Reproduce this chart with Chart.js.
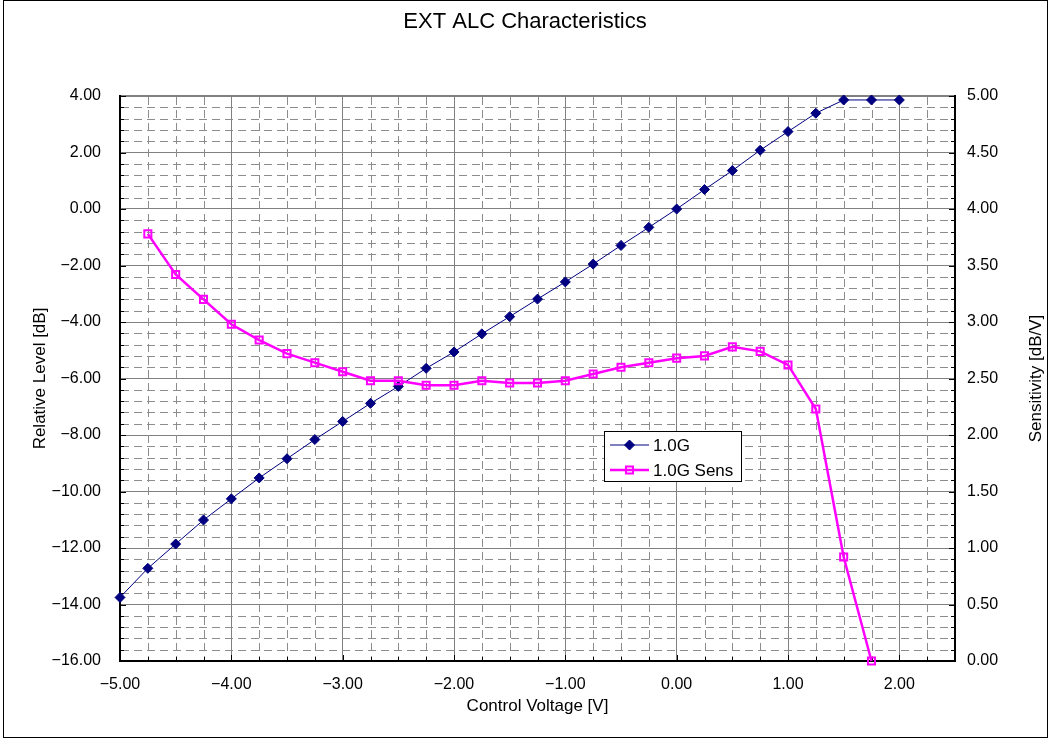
<!DOCTYPE html>
<html>
<head>
<meta charset="utf-8">
<title>EXT ALC Characteristics</title>
<script src="https://cdn.jsdelivr.net/npm/chart.js@4.4.1/dist/chart.umd.min.js"></script>
<style>
  html, body { margin: 0; padding: 0; background: #fff; overflow: hidden; }
  canvas { display: block; }
</style>
</head>
<body>
<canvas id="chart" width="1050" height="738"></canvas>
<script>
// ---- text ----
const chartTitle = 'EXT ALC Characteristics';
const xAxisTitle = 'Control Voltage [V]';
const levelAxisTitle = 'Relative Level [dB]';
const sensAxisTitle = 'Sensitivity [dB/V]';
const seriesNames = ['1.0G', '1.0G Sens'];

// ---- axis ranges / tick steps ----
const voltageRange = [-5.0, 2.5];
const voltageStep = 1.0;
const levelRange = [-16, 4];
const levelStep = 2;
const sensRange = [0, 5];
const sensStep = 0.5;

// ---- measured data ----
const controlVoltage = [
  -5.00, -4.75, -4.50, -4.25, -4.00, -3.75, -3.50, -3.25, -3.00, -2.75,
  -2.50, -2.25, -2.00, -1.75, -1.50, -1.25, -1.00, -0.75, -0.50, -0.25,
   0.00,  0.25,  0.50,  0.75,  1.00,  1.25,  1.50,  1.75,  2.00
];
const level1G = [
  -13.75, -12.72, -11.86, -11.01, -10.26, -9.52, -8.84, -8.16, -7.52, -6.88,
   -6.28,  -5.64,  -5.06,  -4.42,  -3.81, -3.19, -2.58, -1.95, -1.29, -0.65,
    0.00,   0.69,   1.36,   2.08,   2.74,  3.39,  3.86,  3.86,  3.86
];
const sens1G = [
  null, 3.78, 3.42, 3.20, 2.98, 2.84, 2.72, 2.64, 2.56, 2.48,
  2.48, 2.44, 2.44, 2.48, 2.46, 2.46, 2.48, 2.54, 2.60, 2.64,
  2.68, 2.70, 2.78, 2.74, 2.62, 2.23, 0.92, 0.00, null
];

// ---- styling ----
const FONT = '"Liberation Sans", Arial, Helvetica, sans-serif';
const levelColor = '#000080';
const sensColor = '#FF00FF';
const majorGridColor = '#808080';
const minorGridColor = '#8c8c8c';

const fmt = v => (v < -1e-9 ? '\u2212' : '') + Math.abs(v).toFixed(2);
const toPoints = ys => controlVoltage.map((x, i) => ({ x, y: ys[i] }));

// Marker drawing shared by the legend
function drawMarker(ctx, style, cx, cy, r, fill, stroke, lw) {
  ctx.beginPath();
  if (style === 'rectRot') {
    ctx.moveTo(cx - r, cy); ctx.lineTo(cx, cy - r); ctx.lineTo(cx + r, cy); ctx.lineTo(cx, cy + r);
    ctx.closePath();
  } else {
    const s = Math.SQRT1_2 * r;
    ctx.rect(cx - s, cy - s, 2 * s, 2 * s);
  }
  if (fill) { ctx.fillStyle = fill; ctx.fill(); }
  ctx.lineWidth = lw; ctx.strokeStyle = stroke; ctx.stroke();
}

// Minor dashed grid, inside tick marks, legend, right-hand axis title and frame
const decor = {
  id: 'decor',
  beforeDraw(chart) {
    const { ctx, width, height } = chart;
    ctx.save();
    ctx.fillStyle = '#fff';
    ctx.fillRect(0, 0, width, height);
    ctx.restore();
  },
  beforeDatasetsDraw(chart) {
    const { ctx, chartArea: a, scales } = chart;
    const xs = scales.x, ys = scales.y;
    ctx.save();
    ctx.lineWidth = 1;
    ctx.strokeStyle = minorGridColor;
    ctx.setLineDash([8, 5]);
    ctx.beginPath();
    const xMinorCount = Math.round((voltageRange[1] - voltageRange[0]) / 0.25);
    for (let i = 1; i < xMinorCount; i++) {
      if (i % 4 === 0) continue;
      const px = Math.round(xs.getPixelForValue(voltageRange[0] + i * 0.25)) + 0.5;
      ctx.moveTo(px, a.top + 1); ctx.lineTo(px, a.bottom - 1);
    }
    const yMinorCount = Math.round((levelRange[1] - levelRange[0]) / 0.4);
    for (let i = 1; i < yMinorCount; i++) {
      if (i % 5 === 0) continue;
      const py = Math.round(ys.getPixelForValue(levelRange[0] + i * 0.4)) + 0.5;
      ctx.moveTo(a.left + 1, py); ctx.lineTo(a.right - 1, py);
    }
    ctx.stroke();

    // tick marks (inside)
    ctx.setLineDash([]);
    ctx.strokeStyle = '#000';
    ctx.beginPath();
    for (let i = 0; i <= yMinorCount; i++) {
      const py = Math.round(ys.getPixelForValue(levelRange[0] + i * 0.4)) + 0.5;
      const len = i % 5 === 0 ? 6 : 4;
      ctx.moveTo(a.left, py); ctx.lineTo(a.left + len, py);
      ctx.moveTo(a.right, py); ctx.lineTo(a.right - len, py);
    }
    for (let i = 0; i <= xMinorCount; i++) {
      const px = Math.round(xs.getPixelForValue(voltageRange[0] + i * 0.25)) + 0.5;
      const len = i % 4 === 0 ? 6 : 4;
      ctx.moveTo(px, a.bottom); ctx.lineTo(px, a.bottom - len);
    }
    ctx.stroke();
    ctx.restore();
  },
  afterDatasetsDraw(chart) {
    const { ctx } = chart;
    const box = { x: 604.5, y: 431.5, w: 137, h: 50 };
    ctx.save();
    ctx.fillStyle = '#fff';
    ctx.fillRect(box.x, box.y, box.w, box.h);
    ctx.lineWidth = 1;
    ctx.strokeStyle = '#000';
    ctx.strokeRect(box.x, box.y, box.w, box.h);
    const rows = [445, 470];
    chart.data.datasets.forEach((ds, i) => {
      const cy = rows[i];
      ctx.beginPath();
      ctx.moveTo(610, cy); ctx.lineTo(649, cy);
      ctx.lineWidth = ds.borderWidth; ctx.strokeStyle = ds.borderColor;
      ctx.stroke();
      drawMarker(ctx, ds.pointStyle, 629.5, cy, ds.pointRadius,
        ds.pointBackgroundColor === 'transparent' ? null : ds.pointBackgroundColor,
        ds.pointBorderColor, ds.pointBorderWidth);
      ctx.fillStyle = '#000';
      ctx.font = '17px ' + FONT;
      ctx.textAlign = 'left';
      ctx.textBaseline = 'middle';
      ctx.fillText(ds.label, 653, cy + 1);
    });
    ctx.restore();
  },
  afterDraw(chart) {
    const { ctx, chartArea: a } = chart;
    ctx.save();
    ctx.fillStyle = '#000';
    ctx.font = '17px ' + FONT;
    ctx.textAlign = 'center';
    ctx.textBaseline = 'middle';
    ctx.translate(1036, (a.top + a.bottom) / 2);
    ctx.rotate(-Math.PI / 2);
    ctx.fillText(sensAxisTitle, 0, 0);
    ctx.restore();

    ctx.save();
    ctx.lineWidth = 1;
    ctx.strokeStyle = '#000';
    ctx.strokeRect(3.5, 0.5, 1044, 737);
    ctx.restore();
  }
};

new Chart(document.getElementById('chart'), {
  type: 'line',
  data: {
    datasets: [
      {
        label: seriesNames[0],
        data: toPoints(level1G),
        yAxisID: 'y',
        borderColor: levelColor,
        borderWidth: 1,
        pointStyle: 'rectRot',
        pointRadius: 5,
        pointBackgroundColor: levelColor,
        pointBorderColor: levelColor,
        pointBorderWidth: 1,
        tension: 0,
        clip: false,
        order: 1
      },
      {
        label: seriesNames[1],
        data: toPoints(sens1G),
        yAxisID: 'y2',
        borderColor: sensColor,
        borderWidth: 2.5,
        pointStyle: 'rect',
        pointRadius: 5,
        pointBackgroundColor: 'transparent',
        pointBorderColor: sensColor,
        pointBorderWidth: 2,
        tension: 0,
        clip: false,
        order: 0
      }
    ]
  },
  options: {
    responsive: false,
    animation: false,
    devicePixelRatio: 1,
    layout: { padding: 0 },
    plugins: {
      legend: { display: false },
      tooltip: { enabled: false },
      title: {
        display: true,
        text: chartTitle,
        color: '#000',
        font: { family: FONT, size: 22, weight: 'normal' },
        padding: { top: 8.5, bottom: 61.1 }
      }
    },
    scales: {
      x: {
        type: 'linear',
        position: 'bottom',
        min: voltageRange[0],
        max: voltageRange[1],
        afterFit: s => { s.height = 77; },
        ticks: {
          stepSize: voltageStep,
          includeBounds: false,
          autoSkip: false,
          maxRotation: 0,
          padding: 14,
          color: '#000',
          font: { family: FONT, size: 16 },
          callback: v => fmt(v)
        },
        grid: { color: majorGridColor, lineWidth: 1, drawTicks: false },
        border: { display: true, color: '#000', width: 2 },
        title: {
          display: true,
          text: xAxisTitle,
          color: '#000',
          font: { family: FONT, size: 17 },
          padding: { top: 0, bottom: 21 }
        }
      },
      y: {
        type: 'linear',
        position: 'left',
        min: levelRange[0],
        max: levelRange[1],
        afterFit: s => { s.width = 120; },
        ticks: {
          stepSize: levelStep,
          autoSkip: false,
          padding: 19,
          color: '#000',
          font: { family: FONT, size: 16 },
          callback: v => fmt(v)
        },
        grid: {
          color: majorGridColor,
          lineWidth: c => (c.tick && c.tick.value === levelRange[1] ? 2 : 1),
          drawTicks: false
        },
        border: { display: true, color: '#000', width: 2 },
        title: {
          display: true,
          text: levelAxisTitle,
          color: '#000',
          font: { family: FONT, size: 17 },
          padding: { top: 30, bottom: 0 }
        }
      },
      y2: {
        type: 'linear',
        position: 'right',
        min: sensRange[0],
        max: sensRange[1],
        afterFit: s => { s.width = 95; },
        ticks: {
          stepSize: sensStep,
          autoSkip: false,
          padding: 12,
          color: '#000',
          font: { family: FONT, size: 16 },
          callback: v => fmt(v)
        },
        grid: { drawOnChartArea: false, drawTicks: false },
        border: { display: true, color: '#000', width: 2 }
      }
    }
  },
  plugins: [decor]
});
</script>
</body>
</html>
